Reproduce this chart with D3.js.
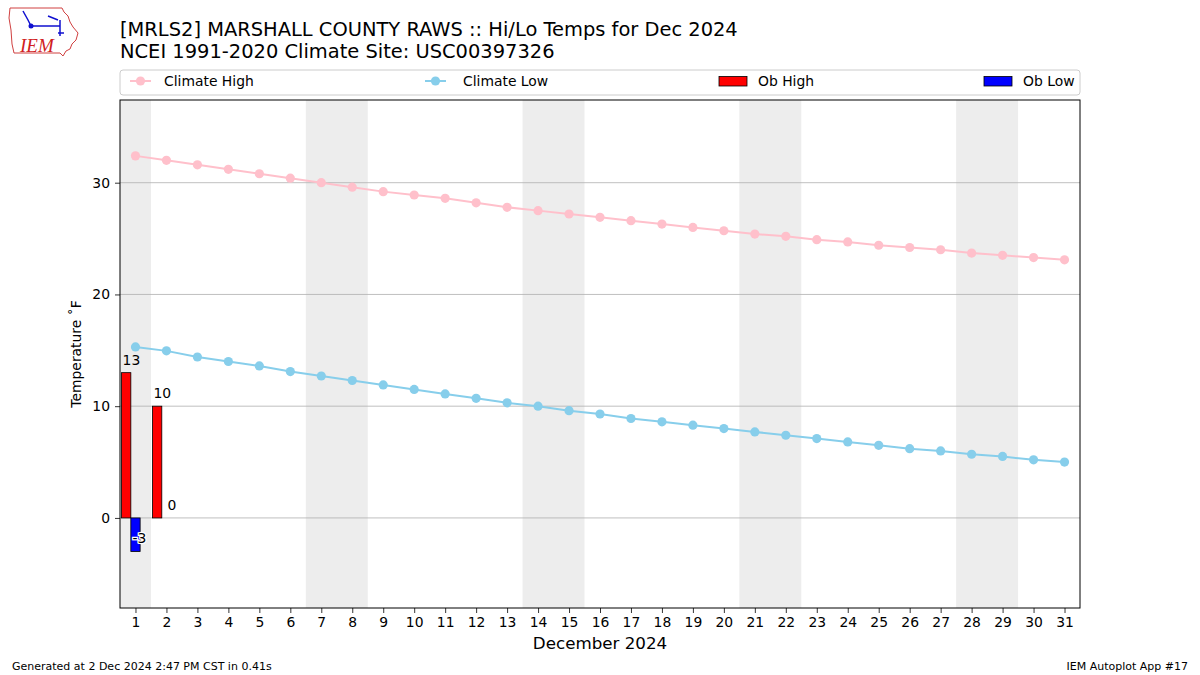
<!DOCTYPE html>
<html><head><meta charset="utf-8">
<script src="https://cdn.jsdelivr.net/npm/d3@7"></script>
<style>body{margin:0;background:#fff;}svg{display:block;font-family:"DejaVu Sans",sans-serif;}</style>
</head><body>
<svg id="c" width="1200" height="675"></svg>
<script>
const days = d3.range(1, 32);
const climateHigh = [32.4,32.0,31.6,31.2,30.8,30.4,30.0,29.6,29.2,28.9,28.6,28.2,27.8,27.5,27.2,26.9,26.6,26.3,26.0,25.7,25.4,25.2,24.9,24.7,24.4,24.2,24.0,23.7,23.5,23.3,23.1];
const climateLow = [15.3,14.95,14.4,14.0,13.6,13.1,12.7,12.3,11.9,11.5,11.1,10.7,10.3,10.0,9.6,9.3,8.9,8.6,8.3,8.0,7.7,7.4,7.1,6.8,6.5,6.2,6.0,5.7,5.5,5.2,5.0];
const obDays = [1, 2];
const obHigh = [13, 10];
const obLow = [-3, 0];
const weekendSpans = [[1,1],[7,8],[14,15],[21,22],[28,29]];
const yTicks = [0, 10, 20, 30];
const titleLines = ["[MRLS2] MARSHALL COUNTY RAWS :: Hi/Lo Temps for Dec 2024", "NCEI 1991-2020 Climate Site: USC00397326"];
const legendLabels = ["Climate High", "Climate Low", "Ob High", "Ob Low"];

const svg = d3.select("#c");
const L = 120, R = 1080, T = 100, B = 608;
const x = d3.scaleLinear().domain([0.5, 31.5]).range([L, R]);
const y = d3.scaleLinear().domain([-8.06, 37.4]).range([B, T]);
const dw = x(1) - x(0);

// weekend shading
svg.append("g").selectAll("rect").data(weekendSpans).join("rect")
  .attr("x", d => x(d[0] - 0.5)).attr("width", d => x(d[1] + 0.5) - x(d[0] - 0.5))
  .attr("y", T).attr("height", B - T).attr("fill", "#ededed");

// grid
svg.append("g").selectAll("line").data(yTicks).join("line")
  .attr("x1", L).attr("x2", R).attr("y1", d => y(d)).attr("y2", d => y(d))
  .attr("stroke", "#b0b0b0").attr("stroke-width", 0.8);

// bars
const obs = obDays.map((d, i) => ({d, hi: obHigh[i], lo: obLow[i]}));
svg.append("g").selectAll("rect").data(obs).join("rect")
  .attr("x", o => x(o.d - 0.45)).attr("width", dw * 0.3)
  .attr("y", o => y(Math.max(0, o.hi))).attr("height", o => Math.abs(y(o.hi) - y(0)))
  .attr("fill", "#ff0000").attr("stroke", "#000").attr("stroke-width", 0.8);
svg.append("g").selectAll("rect").data(obs.filter(o => o.lo !== 0)).join("rect")
  .attr("x", o => x(o.d - 0.15)).attr("width", dw * 0.3)
  .attr("y", o => y(Math.max(0, o.lo))).attr("height", o => Math.abs(y(o.lo) - y(0)))
  .attr("fill", "#0000ff").attr("stroke", "#000").attr("stroke-width", 0.8);

// climate lines
const line = d3.line().x((v, i) => x(days[i])).y(v => y(v));
[[climateHigh, "#ffc0cb"], [climateLow, "#87ceeb"]].forEach(([arr, col]) => {
  svg.append("path").datum(arr).attr("d", line).attr("fill", "none").attr("stroke", col).attr("stroke-width", 2);
  svg.append("g").selectAll("circle").data(arr).join("circle")
    .attr("cx", (v, i) => x(days[i])).attr("cy", v => y(v)).attr("r", 4.6).attr("fill", col);
});

// bar labels
const lab = svg.append("g").attr("font-size", "13.9px").attr("fill", "#000");
obs.forEach(o => {
  lab.append("text").attr("x", x(o.d - 0.45) + 1).attr("y", y(o.hi) - 8).text(o.hi);
  const t = lab.append("text").attr("x", o.lo < 0 ? x(o.d - 0.1) : x(o.d) + 1).attr("y", y(o.lo) - 8).text(o.lo);
  if (o.lo < 0) t.attr("stroke", "#fff").attr("stroke-width", 2.5).attr("paint-order", "stroke");
});

// frame
svg.append("rect").attr("x", L).attr("y", T).attr("width", R - L).attr("height", B - T)
  .attr("fill", "none").attr("stroke", "#000").attr("stroke-width", 1);

// axes
const yAxis = svg.append("g").attr("transform", `translate(${L},0)`)
  .call(d3.axisLeft(y).tickValues(yTicks).tickSize(5).tickPadding(5));
const xAxis = svg.append("g").attr("transform", `translate(0,${B})`)
  .call(d3.axisBottom(x).tickValues(days).tickSize(5).tickPadding(4).tickFormat(d3.format("d")));
[yAxis, xAxis].forEach(a => {
  a.select(".domain").remove();
  a.selectAll("text").attr("font-size", "13.9px").attr("font-family", "DejaVu Sans").attr("fill", "#000");
  a.selectAll("line").attr("stroke", "#000").attr("stroke-width", 0.8);
});

// axis labels
svg.append("text").attr("x", (L + R) / 2).attr("y", 649).attr("text-anchor", "middle")
  .attr("font-size", "16.7px").text("December 2024");
svg.append("text").attr("transform", `translate(81,${(T + B) / 2}) rotate(-90)`).attr("text-anchor", "middle")
  .attr("font-size", "13.9px").text("Temperature \u02DAF");

// title
svg.selectAll("text.title").data(titleLines).join("text").attr("class", "title")
  .attr("x", L).attr("y", (d, i) => 36 + i * 21.5).attr("font-size", "19.45px").attr("fill", "#000").text(d => d);

// legend
const lg = svg.append("g");
lg.append("rect").attr("x", L).attr("y", 70).attr("width", R - L).attr("height", 25).attr("rx", 3)
  .attr("fill", "#fff").attr("stroke", "#cccccc").attr("stroke-width", 1);
const legX = [130, 425, 719, 984];
const legTextX = [164, 463, 758, 1023];
legendLabels.forEach((name, i) => {
  const g = lg.append("g");
  if (i < 2) {
    const col = i === 0 ? "#ffc0cb" : "#87ceeb";
    g.append("line").attr("x1", legX[i]).attr("x2", legX[i] + 21).attr("y1", 81).attr("y2", 81).attr("stroke", col).attr("stroke-width", 2);
    g.append("circle").attr("cx", legX[i] + 10.5).attr("cy", 81).attr("r", 4.6).attr("fill", col);
  } else {
    g.append("rect").attr("x", legX[i]).attr("y", 76.5).attr("width", 28).attr("height", 9.5)
      .attr("fill", i === 2 ? "#ff0000" : "#0000ff").attr("stroke", "#000").attr("stroke-width", 0.8);
  }
  g.append("text").attr("x", legTextX[i]).attr("y", 86).attr("font-size", "13.9px").text(name);
});

// footer
svg.append("text").attr("x", 12).attr("y", 670).attr("font-size", "11px").text("Generated at 2 Dec 2024 2:47 PM CST in 0.41s");
svg.append("text").attr("x", 1188).attr("y", 670).attr("text-anchor", "end").attr("font-size", "11px").text("IEM Autoplot App #17");

// logo
const logo = svg.append("g");
logo.append("path").attr("d", "M10,8 L62,8 L64,12 L68,16 L70,22 L73,27 L78,33 L76,40 L72,44 L70,49 L66,51 L63,56 L60,53 L14,53 L12,44 L11,30 L9,18 Z")
  .attr("fill", "#fff").attr("stroke", "#d04040").attr("stroke-width", 1);
logo.append("path").attr("d", "M31,26 L60,26 M60,20 L60,36 M23,11 L28,20 L31,26 M48,16 L58,20 M58,33 L64,33")
  .attr("fill", "none").attr("stroke", "#1010d0").attr("stroke-width", 1.5);
logo.append("circle").attr("cx", 31).attr("cy", 26).attr("r", 2.5).attr("fill", "#1010d0");
logo.append("text").attr("x", 20).attr("y", 52).attr("font-family", "Liberation Serif").attr("font-style", "italic")
  .attr("font-size", "19px").attr("fill", "#d02020").text("IEM");
</script>
</body></html>
